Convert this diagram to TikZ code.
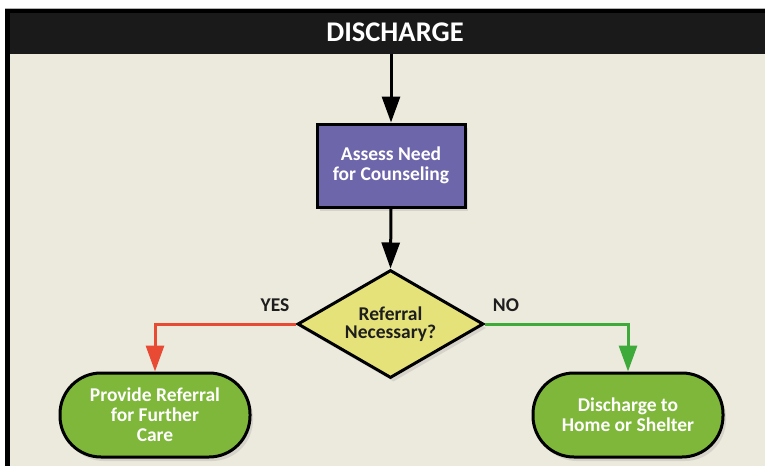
\documentclass[tikz,border=0pt]{standalone}
\usepackage{fontspec}
\setmainfont{Carlito}
\usetikzlibrary{arrows.meta,shapes.geometric,shadows}
\definecolor{bgbeige}{HTML}{ECE9DD}
\definecolor{headdark}{HTML}{1B1A1A}
\definecolor{procpurple}{HTML}{6E66AA}
\definecolor{decyellow}{HTML}{E6E27A}
\definecolor{termgreen}{HTML}{7EB73A}
\definecolor{linegreen}{HTML}{3DAA3A}
\definecolor{linered}{HTML}{E84A33}
\definecolor{textdark}{HTML}{1E1E1E}
\tikzset{
  lbl/.style={font=\bfseries\fontsize{19.5}{20}\selectfont, align=center, inner sep=0pt},
  shadowed/.style={drop shadow={opacity=0.2, shadow xshift=3pt, shadow yshift=-4pt}},
  procbox/.style={lbl, rectangle, draw=black, line width=3pt, fill=procpurple, text=white,
    minimum width=148pt, minimum height=83pt, shadowed},
  decision/.style={lbl, diamond, draw=black, line width=3pt, fill=decyellow, text=textdark,
    minimum width=186pt, minimum height=108pt, aspect=1.72, inner sep=0pt, shadowed},
  terminal/.style={lbl, rectangle, rounded corners=41pt, draw=black, line width=3pt, fill=termgreen,
    text=white, minimum width=190pt, minimum height=84pt, shadowed},
  headbar/.style={rectangle, fill=headdark, minimum width=755pt, minimum height=45pt, inner sep=0pt},
  flowarrow/.style={line width=3pt, -{Triangle[length=26pt,width=18pt]}},
  blackarrow/.style={flowarrow, draw=black},
  redarrow/.style={flowarrow, draw=linered},
  greenarrow/.style={flowarrow, draw=linegreen},
  branch/.style={lbl, text=textdark}
}
\begin{document}
\begin{tikzpicture}[x=1pt,y=-1pt]
\useasboundingbox (0,0) rectangle (765,466);
\fill[white] (0,0) rectangle (765,466);
\fill[bgbeige] (5,8) rectangle (765,466);
\node[headbar] (header) at (387.5,31) {};
\fill[gray!60] (5,7.5) rectangle (765,9);
\fill[black] (5,9) rectangle (765,13);
\fill[black] (5,9) rectangle (10,466);
\node[lbl, text=white, font=\bfseries\fontsize{28.5}{30}\selectfont] (title) at (395,32) {DISCHARGE};
\node[procbox] (assess) at (391,165.5) {Assess Need\\for Counseling};
\node[decision] (dec) at (390.5,324) {Referral\\[-2pt]Necessary?};
\node[terminal] (refer) at (155,415) {Provide Referral\\for Further\\Care};
\node[terminal] (home) at (628,415) {Discharge to\\Home or Shelter};
\draw[blackarrow] (header.south -| assess.north) -- (assess.north);
\draw[blackarrow] (assess.south) -- (dec.north);
\draw[redarrow] (dec.west) -| (refer.north);
\draw[greenarrow] (dec.east) -| (home.north);
\node[branch] (yes) at (275,305) {YES};
\node[branch] (no) at (506,305) {NO};
\end{tikzpicture}
\end{document}
